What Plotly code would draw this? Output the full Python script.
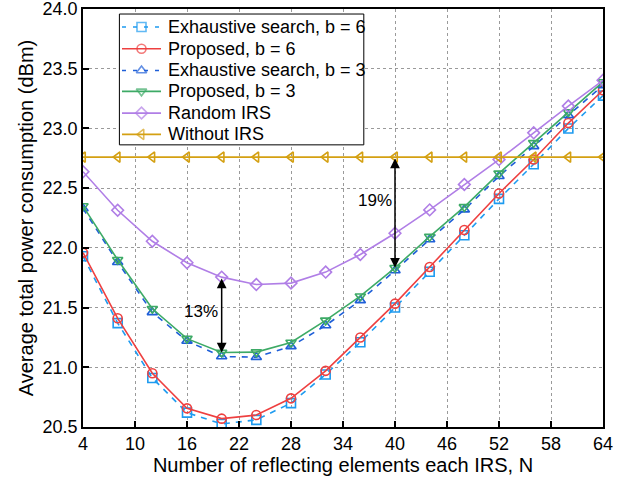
import plotly.graph_objects as go

# Number of reflecting elements per IRS
N = [4, 8, 12, 16, 20, 24, 28, 32, 36, 40, 44, 48, 52, 56, 60, 64]

# Average total power consumption (dBm)
exhaustive_b6 = [21.93, 21.37, 20.91, 20.62, 20.525, 20.56, 20.70, 20.94, 21.21, 21.50,
                 21.80, 22.105, 22.41, 22.70, 23.00, 23.275]
proposed_b6 = [21.96, 21.41, 20.95, 20.656, 20.57, 20.60, 20.74, 20.97, 21.25, 21.533,
               21.84, 22.15, 22.455, 22.74, 23.045, 23.32]
exhaustive_b3 = [22.33, 21.88, 21.46, 21.22, 21.09, 21.085, 21.175, 21.35, 21.56, 21.81,
                 22.07, 22.32, 22.60, 22.85, 23.11, 23.36]
proposed_b3 = [22.35, 21.90, 21.49, 21.24, 21.124, 21.127, 21.208, 21.393, 21.595, 21.833,
               22.094, 22.343, 22.624, 22.879, 23.137, 23.389]
random_irs = [22.638, 22.315, 22.055, 21.875, 21.755, 21.693, 21.705, 21.797, 21.945, 22.122,
              22.318, 22.531, 22.739, 22.963, 23.187, 23.403]
without_irs = [22.76] * len(N)

x_ticks = [4, 10, 16, 22, 28, 34, 40, 46, 52, 58, 64]
y_ticks = [20.5, 21.0, 21.5, 22.0, 22.5, 23.0, 23.5, 24.0]

series = [
    ("Exhaustive search, b = 6", exhaustive_b6, "#1E9BF0", "square-open", "6px,6px"),
    ("Proposed, b = 6", proposed_b6, "#EE4040", "circle-open", "solid"),
    ("Exhaustive search, b = 3", exhaustive_b3, "#1F5FD8", "triangle-up-open", "6px,6px"),
    ("Proposed, b = 3", proposed_b3, "#3DAA66", "triangle-down-open", "solid"),
    ("Random IRS", random_irs, "#B07EE6", "diamond-open", "solid"),
    ("Without IRS", without_irs, "#D4A012", "triangle-left-open", "solid"),
]

LINE_W = 1.6
MARKER_SIZE = 9

fig = go.Figure()
for name, vals, color, symbol, dash in series:
    fig.add_trace(go.Scatter(
        x=N, y=vals, name=name, mode="lines+markers", showlegend=False,
        line=dict(color=color, width=LINE_W, dash=dash),
        marker=dict(symbol=symbol, size=MARKER_SIZE, color=color,
                    line=dict(color=color, width=LINE_W)),
    ))

# Boxed key in the upper-left corner, laid out in plot-area fractions (x2/y2)
kx0, kx1, ky0, ky1 = 0.070, 0.540, 0.675, 0.988
key_rows = [0.957, 0.905, 0.853, 0.803, 0.751, 0.700]
key_line = (0.075, 0.1125, 0.150)
key_text_x = 0.160

fig.add_trace(go.Scatter(
    x=[kx0, kx1, kx1, kx0, kx0], y=[ky0, ky0, ky1, ky1, ky0],
    xaxis="x2", yaxis="y2", mode="lines", fill="toself", fillcolor="white",
    line=dict(color="black", width=1), showlegend=False, hoverinfo="skip",
))
for (name, vals, color, symbol, dash), ry in zip(series, key_rows):
    fig.add_trace(go.Scatter(
        x=list(key_line), y=[ry] * 3, xaxis="x2", yaxis="y2",
        mode="lines+markers", showlegend=False, hoverinfo="skip",
        line=dict(color=color, width=LINE_W, dash="4px,7px" if dash != "solid" else dash),
        marker=dict(symbol=symbol, size=[0, MARKER_SIZE, 0], color=color,
                    line=dict(color=color, width=LINE_W)),
    ))
    fig.add_annotation(x=key_text_x, y=ry, xref="x2", yref="y2",
                       text=name, showarrow=False, xanchor="left", yanchor="middle",
                       font=dict(size=18, color="black"))

# Gain arrows between curves
i20 = N.index(20)
i40 = N.index(40)
arrows = [
    (20, random_irs[i20], proposed_b3[i20]),
    (40, without_irs[i40], proposed_b3[i40]),
]
for xa, y_top, y_bot in arrows:
    fig.add_annotation(
        x=xa, y=y_bot, ax=xa, ay=y_top, xref="x", yref="y", axref="x", ayref="y",
        showarrow=True, arrowhead=2, arrowside="end+start", arrowsize=1.3,
        arrowwidth=1.5, arrowcolor="black", text="",
    )
fig.add_annotation(x=17.6, y=21.47, text="13%", showarrow=False,
                   font=dict(size=17, color="black"))
fig.add_annotation(x=37.7, y=22.40, text="19%", showarrow=False,
                   font=dict(size=17, color="black"))

axis_common = dict(
    showline=True, linecolor="black", linewidth=1.5, mirror=True,
    ticks="inside", ticklen=6, tickwidth=1.5, tickcolor="black",
    showgrid=True, gridcolor="#9a9a9a", griddash="dot", gridwidth=1,
    zeroline=False, tickfont=dict(size=18, color="black"), automargin=False,
    ticklabeloverflow="allow",
)

fig.update_layout(
    width=633, height=491,
    margin=dict(l=83, r=30, t=9, b=64),
    paper_bgcolor="white", plot_bgcolor="white",
    font=dict(family="Liberation Sans, Arial, sans-serif", size=18, color="black"),
    xaxis=dict(range=[4, 64], tickvals=x_ticks,
               title=dict(text="Number of reflecting elements each IRS, N",
                          font=dict(size=20), standoff=3),
               **axis_common),
    yaxis=dict(range=[20.5, 24.0], tickvals=y_ticks, tickformat=".1f",
               title=dict(text="Average total power consumption (dBm)",
                          font=dict(size=20), standoff=4),
               **axis_common),
    xaxis2=dict(overlaying="x", range=[0, 1], visible=False, fixedrange=True),
    yaxis2=dict(overlaying="y", range=[0, 1], visible=False, fixedrange=True),
    showlegend=False,
)

fig.write_html("out.html")
